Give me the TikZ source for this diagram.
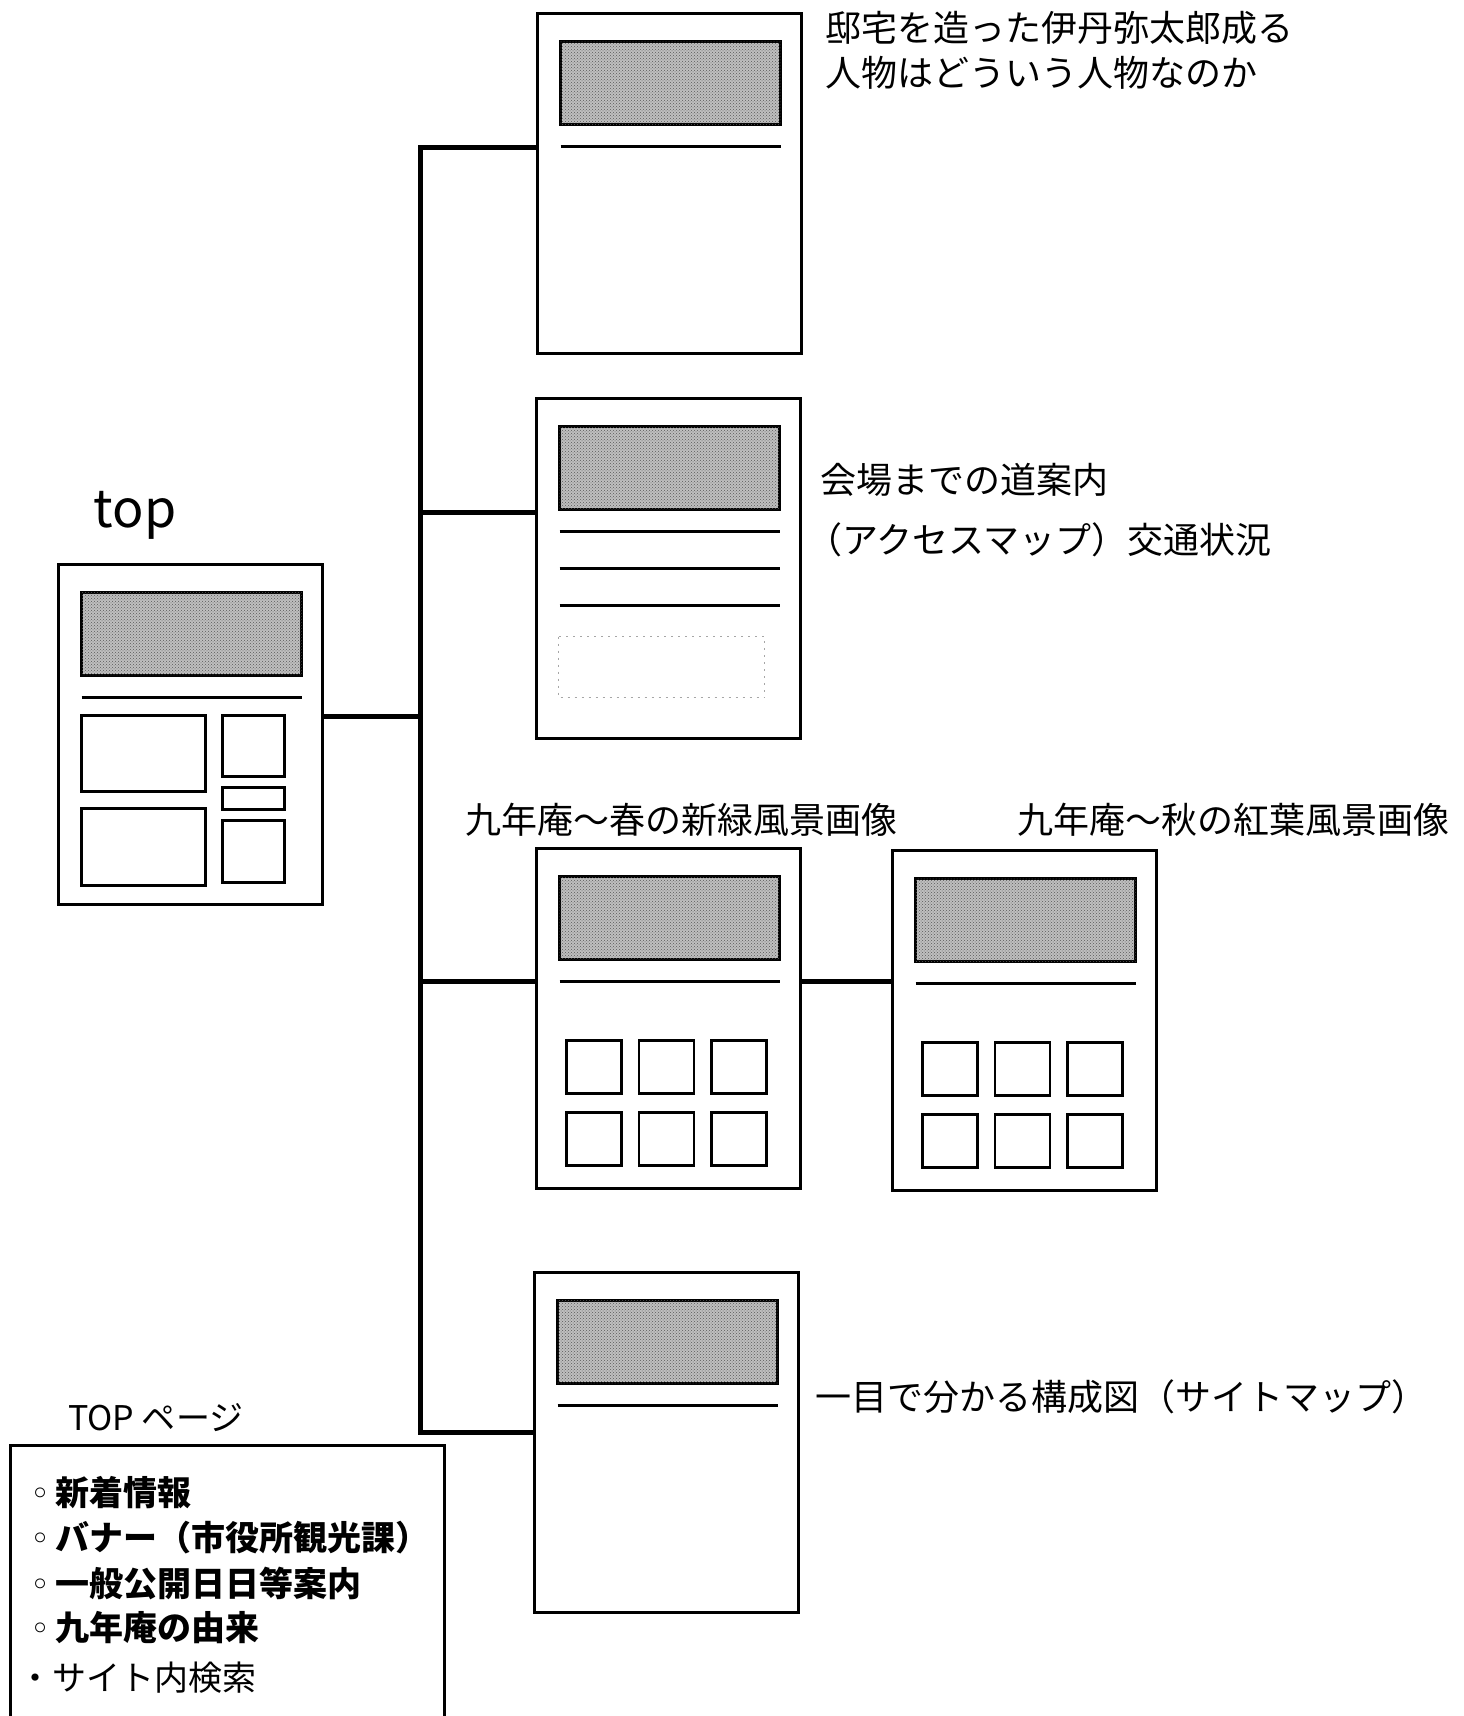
\documentclass[tikz,border=0pt]{standalone}
\usepackage{fontspec}
\setmainfont{Noto Sans CJK JP}
\newfontfamily\bulfont{DejaVu Sans}
\usetikzlibrary{calc,positioning,patterns}

\begin{document}
\begin{tikzpicture}[x=1pt,y=-1pt]
  \tikzset{page/.style={draw,line width=3pt,minimum width=264pt,minimum height=340pt,inner sep=0pt},
           photo/.style={draw,line width=2.5pt,fill=gray!50,postaction={pattern=crosshatch dots,pattern color=black!65}},
           rule/.style={line width=2.5pt},
           thumb/.style={draw,line width=2.5pt},
           wire/.style={line width=5pt},
           lab/.style={anchor=west,inner sep=0pt,font=\fontsize{36}{45}\selectfont}}
  \useasboundingbox (0,0) rectangle (1464,1716);
  % pages
  \node[page] (top) at (190,734) {};
  \node[page] (p1) at (669,183) {};
  \node[page] (p2) at (668,568) {};
  \node[page] (p3) at (668,1018) {};
  \node[page] (p4) at (1024,1020) {};
  \node[page] (p5) at (666,1442) {};
  \foreach \p in {top,p1,p2,p3,p4,p5} {
    \draw[photo] ($(\p.north west)+(25,30)$) rectangle ++(220,83);
    \draw[rule] ($(\p.north west)+(25,135)$) -- ++(220,0);
  }
  % top page blocks
  \draw[thumb] ($(top.north west)+(25,153)$) rectangle ++(124,76);
  \draw[thumb] ($(top.north west)+(25,246)$) rectangle ++(124,77);
  \draw[thumb] ($(top.north west)+(166,153)$) rectangle ++(62,61);
  \draw[thumb] ($(top.north west)+(166,225)$) rectangle ++(62,22);
  \draw[thumb] ($(top.north west)+(166,258)$) rectangle ++(62,62);
  % access page
  \foreach \dy in {172,209}
    \draw[rule] ($(p2.north west)+(25,\dy)$) -- ++(220,0);
  \draw[gray!70,line width=1pt,dash pattern=on 2pt off 5pt] ($(p2.north west)+(24,240)$) rectangle ++(206,61);
  % gallery thumbnails
  \foreach \p in {p3,p4}
    \foreach \c in {0,1,2}
      \foreach \r in {0,1}
        \draw[thumb] ($(\p.north west)+(32+72.5*\c,194+72*\r)$) rectangle ++(55,53);
  % tree
  \coordinate (j1) at (420,147);
  \coordinate (j2) at (420,512);
  \coordinate (j0) at (420,716);
  \coordinate (j3) at (420,981);
  \coordinate (j5) at (420,1432);
  \draw[wire] (j1 -| p1.west) -- (j1) -- (j5) -- (j5 -| p5.west);
  \draw[wire] (j0 -| top.east) -- (j0);
  \draw[wire] (j2) -- (j2 -| p2.west);
  \draw[wire] (j3) -- (j3 -| p3.west);
  \draw[wire] (j3 -| p3.east) -- (j3 -| p4.west);
  % labels
  \node[lab,anchor=center,font=\fontsize{52}{60}\selectfont] (toplabel) at (135,515) {top};
  \node[lab,align=left] (lab1) at (825,50) {邸宅を造った伊丹弥太郎成る\\人物はどういう人物なのか};
  \node[lab,align=left,font=\fontsize{36}{60}\selectfont] (lab2) at (820,510) {会場までの道案内\\\hspace*{-14pt}（アクセスマップ）交通状況};
  \node[lab] (lab3) at (465,820) {九年庵～春の新緑風景画像};
  \node[lab] (lab4) at (1017,820) {九年庵～秋の紅葉風景画像};
  \node[lab] (lab5) at (815,1397) {一目で分かる構成図（サイトマップ）};
  % TOP page contents
  \node[lab,font=\fontsize{34}{40}\selectfont] (toptitle) at (68,1418) {TOP ページ};
  \node[draw,line width=2.5pt,minimum width=434pt,minimum height=320pt,anchor=north west] (topbox) at (9,1444) {};
  \foreach \txt [count=\i] in {新着情報,バナー（市役所観光課）,一般公開日日等案内,九年庵の由来}
    \node[lab,font=\fontsize{34}{40}\selectfont] (item\i) at (30,1448+45*\i) {{\bulfont ◦}\,\textbf{\txt}};
  \node[lab,font=\fontsize{34}{40}\selectfont] (item5) at (18,1678) {・サイト内検索};
\end{tikzpicture}
\end{document}
